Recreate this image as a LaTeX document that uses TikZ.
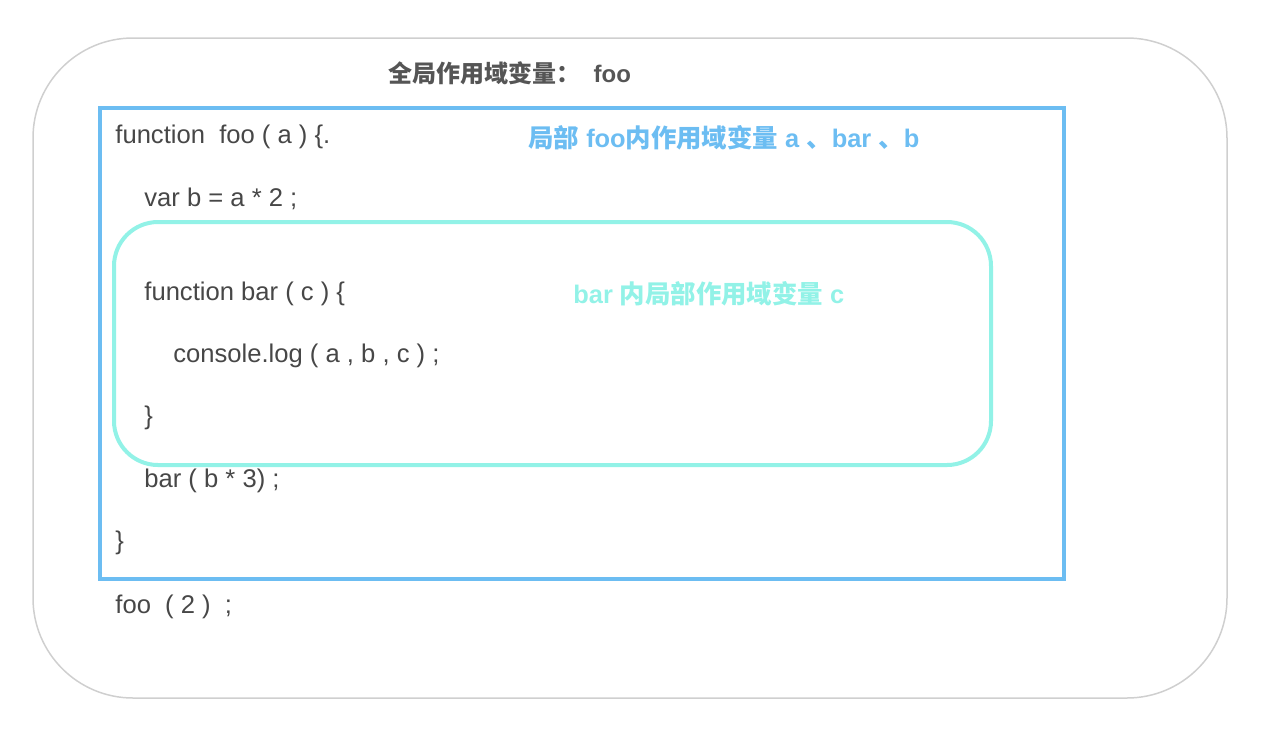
\documentclass[tikz,border=0pt]{standalone}
\usepackage{fontspec}
\setmainfont{Liberation Sans}
\newfontfamily\cjk{Noto Sans CJK SC}
\newcommand\zh[1]{{\cjk #1}}
\definecolor{codegray}{HTML}{474747}
\definecolor{titlegray}{HTML}{555555}
\definecolor{scopeblue}{HTML}{6CBDF2}
\definecolor{scopecyan}{HTML}{92F2E7}
\definecolor{framegray}{HTML}{CFCFCF}

\begin{document}
\begin{tikzpicture}[x=0.5pt, y=-0.5pt,
	code/.style = {anchor=base west, inner sep=0, text=codegray, font=\fontsize{12.8}{15}\selectfont},
	scopelabel/.style = {anchor=base west, inner sep=0, font=\bfseries\fontsize{12.7}{15}\selectfont}]
	\useasboundingbox (0, 0) rectangle (1282, 730);
	% scopes
	\draw[framegray, line width=0.75pt, rounded corners=50pt] (33, 38) rectangle (1227, 698);
	\draw[scopeblue, line width=2pt] (100, 108) rectangle (1064, 579);
	\draw[scopecyan, line width=2pt, rounded corners=22pt] (114, 222) rectangle (991, 465);
	% scope labels
	\node[scopelabel, text=titlegray, font=\bfseries\fontsize{12}{14}\selectfont] (global) at (388, 82){\zh{全局作用域变量：}\ \ foo};
	\node[scopelabel, text=scopeblue] (foolabel) at (528, 147){\zh{局部} foo\zh{内作用域变量} a \zh{、}bar \zh{、}b};
	\node[scopelabel, text=scopecyan] (barlabel) at (573, 303){bar \zh{内局部作用域变量} c};
	% code
	\node[code] (L1) at (115, 143){function\ \ foo ( a ) \{.};
	\node[code] (L2) at (144, 206){var b = a * 2 ;};
	\node[code] (L3) at (144, 300){function bar ( c ) \{};
	\node[code] (L4) at (173, 362){console.log ( a , b , c ) ;};
	\node[code] (L5) at (144, 424){\}};
	\node[code] (L6) at (144, 487){bar ( b * 3) ;};
	\node[code] (L7) at (115, 549){\}};
	\node[code] (L8) at (115, 613){foo\ \ ( 2 )\ \ ;};
\end{tikzpicture}
\end{document}
